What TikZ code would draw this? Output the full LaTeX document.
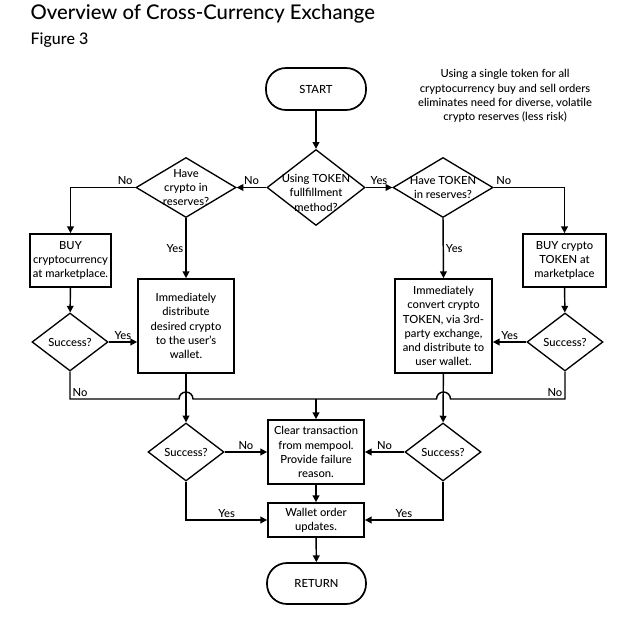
\documentclass[tikz,border=0pt]{standalone}
\usepackage{fontspec}
\setmainfont{Lato Medium}
\usetikzlibrary{arrows.meta,calc,shapes.geometric}
\tikzset{
    txt/.style={font=\fontsize{8.4}{10.6}\selectfont, align=center},
    box/.style={draw, line width=1.3pt, txt, inner sep=0pt},
    term/.style={box, rounded corners=15pt},
    choice/.style={diamond, draw, line width=1pt, inner sep=0pt,
                   minimum width=57pt, minimum height=43.5pt},
    flow/.style={-{Triangle[length=5pt,width=5pt]}, line width=1.1pt},
    link/.style={line width=1.1pt},
    lbl/.style={txt, inner sep=1.5pt},
}

\begin{document}
\begin{tikzpicture}[x=0.75pt, y=-0.75pt]
    \useasboundingbox (0,0) rectangle (625,617);

    \node[anchor=base west, font=\fontsize{15.2}{18}\selectfont] (title) at (26,20)
        {Overview of Cross-Currency Exchange};
    \node[anchor=base west, font=\fontsize{12}{14}\selectfont] (fig) at (26,45) {Figure 3};
    \node[txt] (note) at (505,96) {Using a single token for all\\cryptocurrency buy and sell orders\\eliminates need for diverse, volatile\\crypto reserves (less risk)};

    \node[term, minimum width=75pt, minimum height=31.5pt] (start) at (316,89) {START};
    \node[choice, minimum width=73.5pt, minimum height=57pt,
          label={[txt, yshift=-4pt]center:Using TOKEN\\fullfillment\\method?}] (main) at (316,187.5) {};
    \node[choice, minimum width=75pt, minimum height=45pt,
          label={[txt]center:Have\\crypto in\\reserves?}] (haveC) at (186,187.5) {};
    \node[choice, minimum width=75pt, minimum height=45pt,
          label={[txt]center:Have TOKEN\\in reserves?}] (haveT) at (443,187.5) {};

    \node[box, minimum width=60.75pt, minimum height=39.75pt] (buyL) at (70.5,260.5) {BUY\\cryptocurrency\\at marketplace.};
    \node[box, minimum width=62.25pt, minimum height=39.75pt] (buyR) at (564.5,260.5) {BUY crypto\\TOKEN at\\marketplace};
    \node[box, minimum width=72pt, minimum height=70.5pt] (distL) at (186,326) {Immediately\\distribute\\desired crypto\\to the user's\\wallet.};
    \node[box, minimum width=72.75pt, minimum height=70.5pt] (convR) at (443.5,326) {Immediately\\convert crypto\\TOKEN, via 3rd-\\party exchange,\\and distribute to\\user wallet.};

    \node[choice, label={[txt]center:Success?}] (succL) at (70,342) {};
    \node[choice, label={[txt]center:Success?}] (succR) at (565,342) {};

    \coordinate (merge) at (316,399);

    \node[box, minimum width=72pt, minimum height=48pt] (clear) at (316,452) {Clear transaction\\from mempool.\\Provide failure\\reason.};
    \node[choice, label={[txt]center:Success?}] (succL2) at (186,452) {};
    \node[choice, label={[txt]center:Success?}] (succR2) at (443,452) {};
    \node[box, minimum width=72pt, minimum height=25.5pt] (wallet) at (316,520) {Wallet order\\updates.};
    \node[term, minimum width=74.25pt, minimum height=30.75pt] (ret) at (316.5,583.5) {RETURN};

    % top part
    \draw[flow] (start) -- (main);
    \draw[flow] (main.west) -- node[lbl, above] {No} (haveC.east);
    \draw[flow] (main.east) -- node[lbl, above] {Yes} (haveT.west);
    \draw[flow] (haveC.west) -| node[lbl, pos=0, above left] {No} (buyL.north);
    \draw[flow] (haveT.east) -| node[lbl, pos=0, above right] {No} (buyR.north);
    \draw[flow] (haveC.south) -- node[lbl, left] {Yes} (distL.north);
    \draw[flow] (haveT.south) -- node[lbl, right] {Yes} (convR.north);

    % buy and check
    \draw[flow] (buyL) -- (succL);
    \draw[flow] (buyR) -- (succR);
    \draw[flow] (succL.east) -- node[lbl, above] {Yes} (succL.east -| distL.west);
    \draw[flow] (succR.west) -- node[lbl, above] {Yes} (succR.west -| convR.east);

    % failed buys, hopping over the verticals
    \draw[link] (succL.south) |- node[lbl, above right] {No}
        ($(distL.south |- merge)+(-7,0)$) arc (180:360:7) -- (merge);
    \draw[link] (succR.south) |- node[lbl, above left] {No}
        ($(convR.south |- merge)+(7,0)$) arc (0:-180:7) -- (merge);
    \draw[flow] (merge) -- (clear);
    \draw[flow] (distL) -- (succL2);
    \draw[flow] (convR) -- (succR2);

    % bottom part
    \draw[flow] (succL2.east) -- node[lbl, above] {No} (clear.west);
    \draw[flow] (succR2.west) -- node[lbl, above] {No} (clear.east);
    \draw[flow] (succL2.south) |- node[lbl, pos=0.75, above] {Yes} (wallet.west);
    \draw[flow] (succR2.south) |- node[lbl, pos=0.75, above] {Yes} (wallet.east);
    \draw[flow] (clear) -- (wallet);
    \draw[flow] (wallet) -- (ret);

\end{tikzpicture}
\end{document}
